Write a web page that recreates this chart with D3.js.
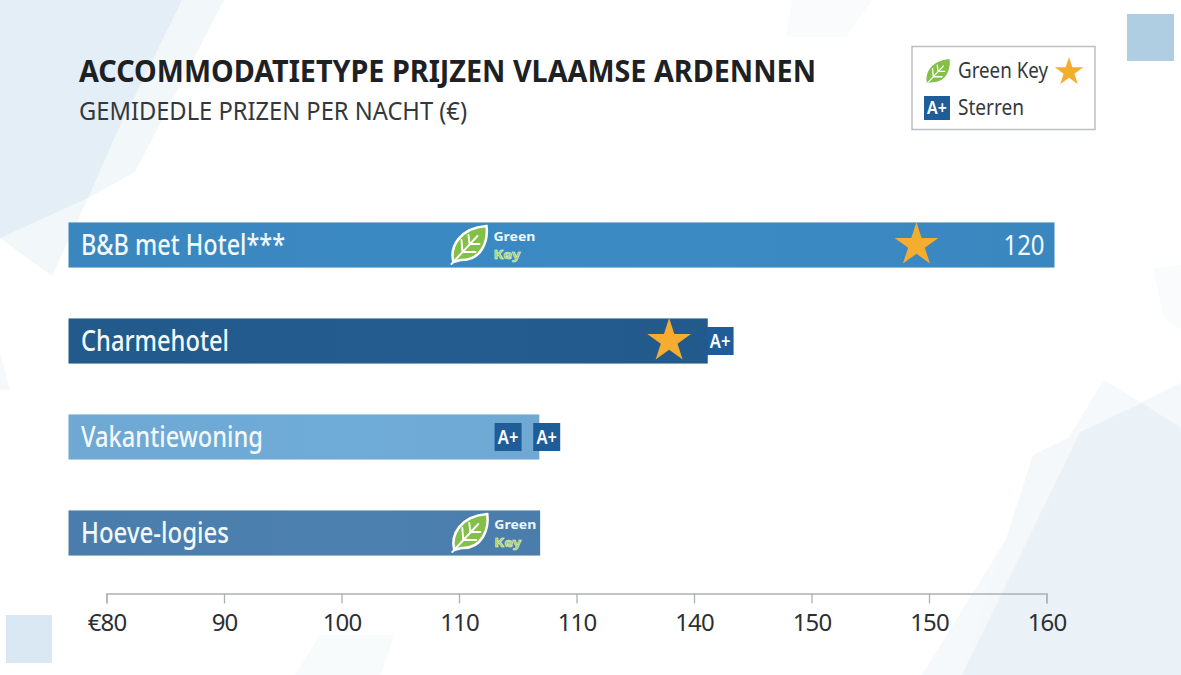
<!DOCTYPE html>
<html lang="nl">
<head>
<meta charset="utf-8">
<title>Accommodatietype prijzen Vlaamse Ardennen</title>
<script src="https://cdn.jsdelivr.net/npm/d3@7"></script>
<style>
  html, body { margin: 0; padding: 0; background: #fff; }
  svg { display: block; }
  text { font-family: "Noto Sans", sans-serif; }
</style>
</head>
<body>
<svg id="chart" width="1181" height="675"></svg>
<script>
// Chart content
const chartTitle = "ACCOMMODATIETYPE PRIJZEN VLAAMSE ARDENNEN";
const chartSubtitle = "GEMIDEDLE PRIZEN PER NACHT (€)";
const categories = ["B&B met Hotel***", "Charmehotel", "Vakantiewoning", "Hoeve-logies"];
const barValues = [120, 77.8, 57.3, 57.4];
const barColors = ["#3a87c0", "#235a8c", "#6ea8d3", "#4a7dab"];
const statedValues = ["120", null, null, null];
const axisSteps = [80, 90, 100, 110, 120, 130, 140, 150, 160];
const axisLabels = ["€80", "90", "100", "110", "110", "140", "150", "150", "160"];

// Award markers on the bars: category index, kind, and value along the bar
const markerBars = [0, 0, 1, 1, 2, 2, 3];
const markerKinds = ["key", "star", "star", "badge", "badge", "badge", "key"];
const markerValues = [48.8, 103.2, 73.1, 79.3, 53.5, 58.2, 48.9];

const svg = d3.select("#chart");

// Faint geometric backdrop
const backdrop = [
  { fill: "#f2f7fa", pts: [[182,0],[224,0],[135,172],[88,198],[52,276],[0,238]] },
  { fill: "#e4eef6", pts: [[0,0],[182,0],[118,130],[88,198],[0,238]] },
  { fill: "#fafbfd", pts: [[792,0],[872,0],[846,37],[786,37]] },
  { fill: "#f9fbfc", pts: [[1153,268],[1181,265],[1181,330],[1164,318]] },
  { fill: "#f6f9fb", pts: [[0,352],[10,390],[0,390]] },
  { fill: "#f8fbfc", pts: [[320,635],[394,635],[381,675],[295,675]] },
  { fill: "#f6f9fb", pts: [[1104,380],[1181,427],[1181,675],[922,675]] },
  { fill: "#f4f8fa", pts: [[1033,455],[1181,383],[1181,675],[962,675]] },
  { fill: "#ebf2f7", pts: [[1080,432],[1142,403],[1181,428],[1181,675],[962,675]] }
];
svg.append("g").selectAll("polygon").data(backdrop).join("polygon")
  .attr("points", d => d.pts.map(p => p.join(",")).join(" "))
  .attr("fill", d => d.fill);
svg.append("rect").attr("x", 1127).attr("y", 14).attr("width", 47).attr("height", 47).attr("fill", "#b0cee2");
svg.append("rect").attr("x", 6).attr("y", 615).attr("width", 46).attr("height", 48).attr("fill", "#d9e8f2");

// Titles
svg.append("text").attr("x", 79).attr("y", 82)
  .attr("font-size", 31).attr("font-weight", 700).attr("fill", "#1d2124")
  .attr("textLength", 737).attr("lengthAdjust", "spacingAndGlyphs").text(chartTitle);
svg.append("text").attr("x", 79).attr("y", 119.5)
  .attr("font-size", 26).attr("fill", "#33383c")
  .attr("textLength", 388).attr("lengthAdjust", "spacingAndGlyphs").text(chartSubtitle);

// Scales
const x = d3.scaleLinear().domain([0, 120]).range([68.5, 1054.5]);
const y = d3.scaleBand().domain(categories).range([197, 581]).paddingInner(0.53).paddingOuter(0.265);
const axisX = d3.scaleLinear().domain([80, 160]).range([106.5, 1046.5]);

// Bars
const defs = svg.append("defs");
barColors.forEach((c, i) => {
  const g = defs.append("linearGradient").attr("id", "bar" + i);
  g.append("stop").attr("offset", "0%").attr("stop-color", c);
  g.append("stop").attr("offset", "60%").attr("stop-color", d3.color(c).brighter(0.06));
  g.append("stop").attr("offset", "100%").attr("stop-color", c);
});
const rows = categories.map((name, i) => ({ name, value: barValues[i], i, stated: statedValues[i] }));
svg.append("g").selectAll("rect").data(rows).join("rect")
  .attr("x", x(0))
  .attr("y", d => y(d.name))
  .attr("width", d => x(d.value) - x(0))
  .attr("height", y.bandwidth())
  .attr("fill", d => `url(#bar${d.i})`);

// Category labels inside the bars
const labelWidths = [204, 148, 182, 148];
svg.append("g").selectAll("text").data(rows).join("text")
  .attr("x", 81)
  .attr("y", d => y(d.name) + y.bandwidth() / 2 + 10)
  .attr("font-size", 28).attr("font-weight", 500).attr("fill", "#f2f8fc")
  .attr("textLength", d => labelWidths[d.i]).attr("lengthAdjust", "spacingAndGlyphs")
  .text(d => d.name);

// Stated price at the end of the bar
svg.append("g").selectAll("text").data(rows.filter(d => d.stated)).join("text")
  .attr("x", d => x(d.value) - 10)
  .attr("y", d => y(d.name) + y.bandwidth() / 2 + 10)
  .attr("text-anchor", "end").attr("font-size", 27).attr("fill", "#f4f9fc")
  .attr("textLength", 41).attr("lengthAdjust", "spacingAndGlyphs")
  .text(d => d.stated);

// Icon helpers
const leafPath = "M-16,17 C-20,2 -10,-17 17,-19 C19,-4 12,16 -9,15 Z";
function drawLeaf(g, outlined, s) {
  const leaf = g.append("g").attr("transform", `scale(${s})`);
  leaf.append("path").attr("d", leafPath)
    .attr("fill", "#84bf47")
    .attr("stroke", outlined ? "#fff" : "none").attr("stroke-width", 2.5);
  leaf.append("path").attr("d", "M-18,19 L8,-9 M-7,7 L-8,-5 M-7,7 L6,7 M0,-1 L-1,-10 M0,-1 L10,-1")
    .attr("fill", "none").attr("stroke", "#fff").attr("stroke-width", 1.9).attr("stroke-linecap", "round");
}
function drawStar(g, outer) {
  g.append("path")
    .attr("d", d3.symbol(d3.symbolStar, outer * outer / 0.8908130915292852)())
    .attr("fill", "#f4ad2f");
}
function drawBadge(g, w, h, size) {
  g.append("rect").attr("x", -w / 2).attr("y", -h / 2).attr("width", w).attr("height", h).attr("fill", "#1f5d99");
  g.append("text").attr("text-anchor", "middle").attr("y", size * 0.36)
    .attr("font-size", size).attr("font-weight", 600).attr("fill", "#fff")
    .attr("textLength", w * 0.76).attr("lengthAdjust", "spacingAndGlyphs").text("A+");
}
function drawGreenKey(g) {
  const leaf = g.append("g");
  drawLeaf(leaf, true, 1);
  g.append("text").attr("x", 24).attr("y", -4).attr("font-size", 12.5).attr("font-weight", 700)
    .attr("fill", "#eef6fb").attr("textLength", 42).attr("lengthAdjust", "spacingAndGlyphs").text("Green");
  g.append("text").attr("x", 24).attr("y", 13.5).attr("font-size", 12.5).attr("font-weight", 700)
    .attr("fill", "#9bd04e").attr("stroke", "#e9f6df").attr("stroke-width", 0.5)
    .attr("textLength", 27).attr("lengthAdjust", "spacingAndGlyphs").text("Key");
}

// Award markers
markerBars.forEach((barIndex, i) => {
  const cy = y(categories[barIndex]) + y.bandwidth() / 2;
  const g = svg.append("g").attr("transform", `translate(${x(markerValues[i])},${cy})`);
  if (markerKinds[i] === "key") drawGreenKey(g);
  else if (markerKinds[i] === "star") drawStar(g, 23);
  else drawBadge(g, 27, 28, 20);
});

// Legend
const legend = svg.append("g");
legend.append("rect").attr("x", 912).attr("y", 46.5).attr("width", 183).attr("height", 83)
  .attr("fill", "#fff").attr("stroke", "#bcbfc2").attr("stroke-width", 1.5);
drawLeaf(legend.append("g").attr("transform", "translate(938,72)"), false, 0.68);
legend.append("text").attr("x", 958).attr("y", 78).attr("font-size", 22).attr("fill", "#33383c")
  .attr("textLength", 90).attr("lengthAdjust", "spacingAndGlyphs").text("Green Key");
drawStar(legend.append("g").attr("transform", "translate(1069,72)"), 15);
drawBadge(legend.append("g").attr("transform", "translate(937,108)"), 26, 24, 18);
legend.append("text").attr("x", 958).attr("y", 115).attr("font-size", 22).attr("fill", "#33383c")
  .attr("textLength", 66).attr("lengthAdjust", "spacingAndGlyphs").text("Sterren");

// Price axis
const axis = d3.axisBottom(axisX)
  .tickValues(axisSteps)
  .tickFormat((d, i) => axisLabels[i])
  .tickSize(10).tickSizeOuter(10).tickPadding(10);
const axisG = svg.append("g").attr("transform", "translate(0,593.5)").call(axis);
axisG.selectAll(".domain, .tick line").attr("stroke", "#adb1b4").attr("stroke-width", 1.3);
axisG.selectAll(".tick text")
  .attr("font-size", 24).attr("fill", "#2b2f33").attr("font-family", '"Open Sans", sans-serif')
  .attr("letter-spacing", -0.9);
</script>
</body>
</html>
